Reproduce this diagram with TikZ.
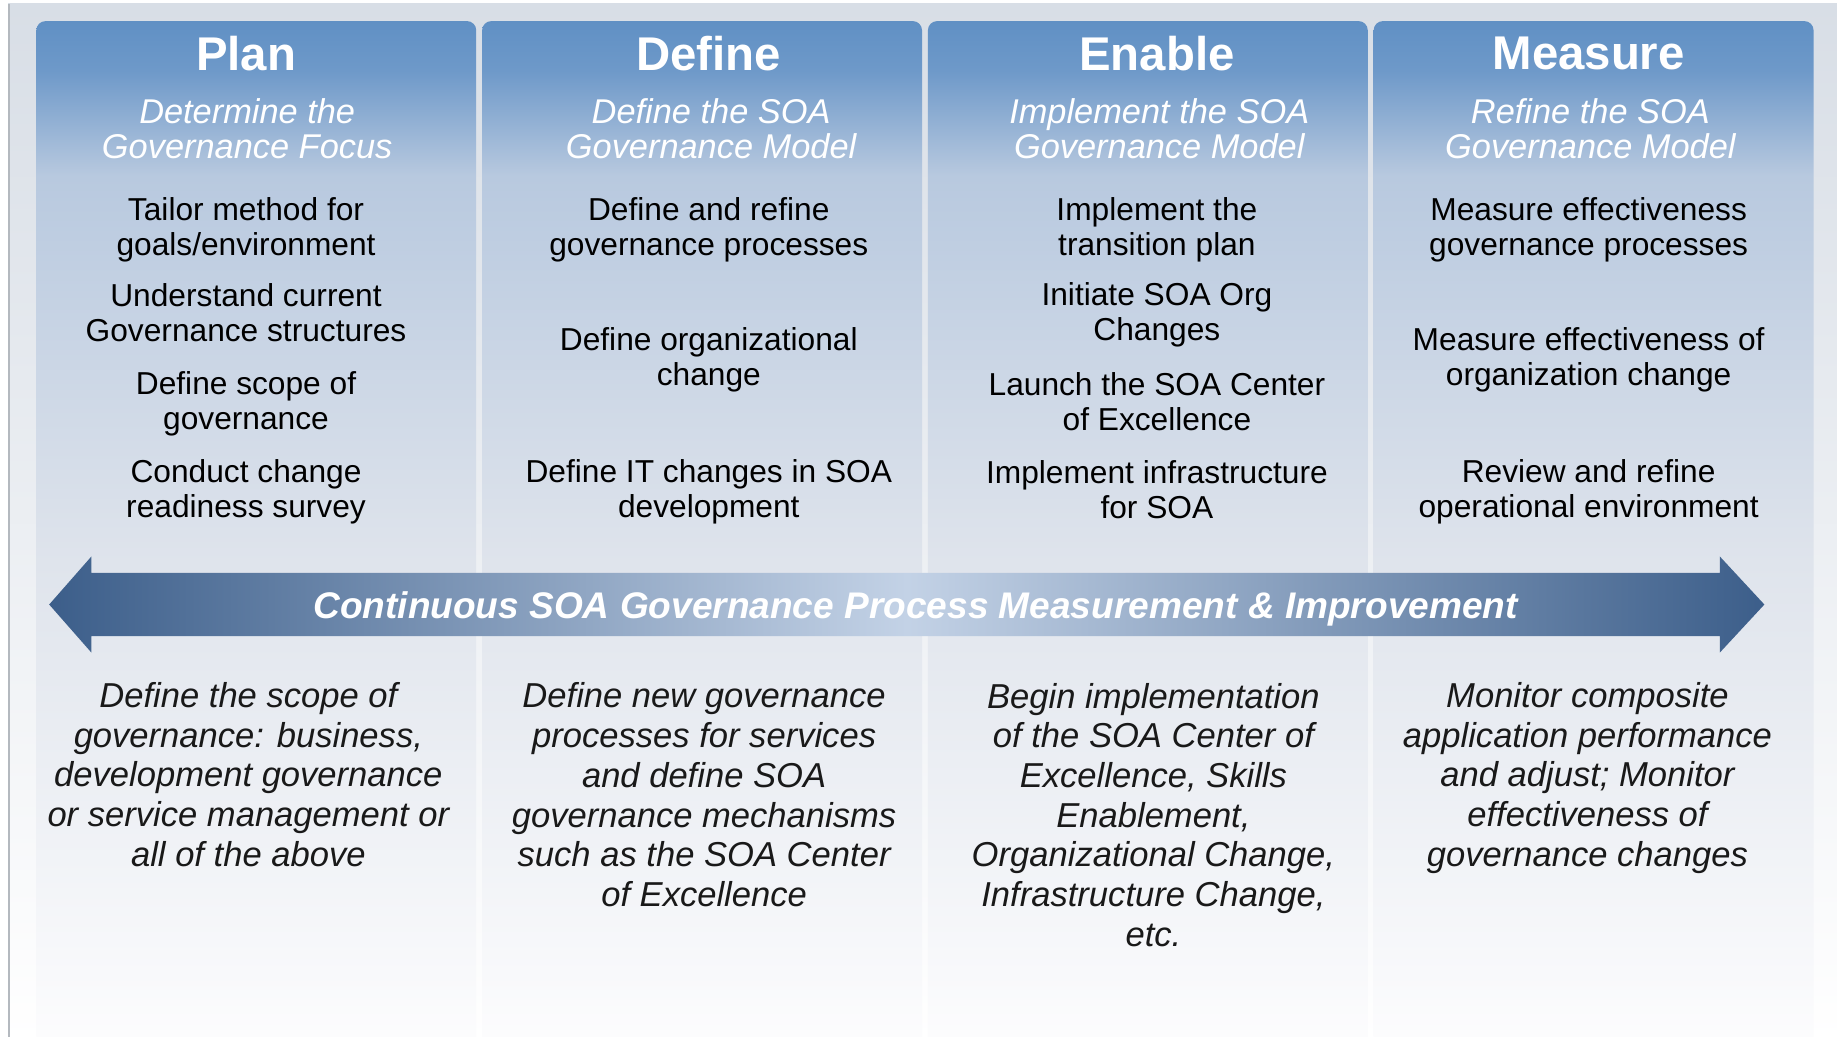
\documentclass[tikz,border=0pt]{standalone}
\usepackage{fontspec}
\setmainfont{Liberation Sans}
\usepackage{xcolor}
\usepackage{tikz}
\usetikzlibrary{calc}
\definecolor{bgtop}{HTML}{D8DEE6}
\definecolor{bgbot}{HTML}{FFFFFF}
\definecolor{edgegray}{HTML}{B4B9BF}
\definecolor{coltop}{HTML}{6090C4}
\definecolor{colhi}{HTML}{6E99C9}
\definecolor{colmid}{HTML}{B8C9DF}
\definecolor{collow}{HTML}{DFE4EC}
\definecolor{colbot}{HTML}{FDFDFE}
\definecolor{bandend}{HTML}{3C5E8A}
\definecolor{bandmid}{HTML}{C3D2E6}
\pgfdeclareverticalshading{colfade}{100bp}{color(0bp)=(colbot); color(25bp)=(colbot); color(48.8bp)=(collow); color(67.5bp)=(colmid); color(72.6bp)=(colhi); color(75bp)=(coltop); color(100bp)=(coltop)}
\tikzset{
    panel/.style={top color=bgtop, bottom color=bgbot},
    column fill/.style={shading=colfade, rounded corners=4.5pt},
    band/.style={left color=bandend, right color=bandend, middle color=bandmid},
    phase title/.style={text=white, font=\fontsize{23}{26}\selectfont\bfseries},
    phase goal/.style={text=white, align=center, font=\fontsize{16.7}{17}\selectfont\itshape},
    phase step/.style={text=black, align=center, font=\fontsize{15.4}{17}\selectfont},
    phase note/.style={text=black!90, align=center, font=\fontsize{16.8}{19.3}\selectfont\itshape},
    band text/.style={text=white, font=\fontsize{18}{21}\selectfont\bfseries\itshape},
}

\begin{document}
\begin{tikzpicture}[x=0.02cm, y=-0.02cm]
        \useasboundingbox (0,0) rectangle (1568,885);
        \clip (0,0) rectangle (1568,885);

        \path[panel] (7,3) rectangle (1575,890);
        \draw[edgegray, line width=1.2pt] (7.5,3) -- (7.5,890);

        \foreach \xl in {31,411.5,792,1172.5}
            \path[column fill] (\xl,900) rectangle ++(375.5,-882);

        \coordinate (bandL) at (42,516);
        \coordinate (bandR) at (1506,516);
        \path[band] (bandL) -- ($(bandL)+(36,-41)$) -- ($(bandL)+(36,-27)$)
            -- ($(bandR)+(-38,-27)$) -- ($(bandR)+(-38,-41)$) -- (bandR)
            -- ($(bandR)+(-38,41)$) -- ($(bandR)+(-38,27)$)
            -- ($(bandL)+(36,27)$) -- ($(bandL)+(36,41)$) -- cycle;
        \node[band text] (band) at (781.5,520)
            {Continuous SOA Governance Process Measurement \& Improvement};

        % Plan
        \node[phase title] (plan) at (210,46) {Plan};
        \node[phase goal] (plan goal) at (211,110) {Determine the\\Governance Focus};
        \node[phase step] (plan s1) at (210,196) {Tailor method for\\goals/environment};
        \node[phase step] (plan s2) at (210,267) {Understand current\\Governance structures};
        \node[phase step] (plan s3) at (210,345) {Define scope of\\governance};
        \node[phase step] (plan s4) at (210,420) {Conduct change\\readiness survey};
        \node[phase note] (plan note) at (212,661) {Define the scope of\\governance: business,\\development governance\\or service management or\\all of the above};

        % Define
        \node[phase title] (define) at (605,46) {Define};
        \node[phase goal] (define goal) at (607,110) {Define the SOA\\Governance Model};
        \node[phase step] (define s1) at (605,196) {Define and refine\\governance processes};
        \node[phase step] (define s2) at (605,307) {Define organizational\\change};
        \node[phase step] (define s3) at (605,420) {Define IT changes in SOA\\development};
        \node[phase note] (define note) at (601,678.5) {Define new governance\\processes for services\\and define SOA\\governance mechanisms\\such as the SOA Center\\of Excellence};

        % Enable
        \node[phase title] (enable) at (987.5,46) {Enable};
        \node[phase goal] (enable goal) at (989.5,110) {Implement the SOA\\Governance Model};
        \node[phase step] (enable s1) at (987.5,196) {Implement the\\transition plan};
        \node[phase step] (enable s2) at (987.5,269) {Initiate SOA Org\\Changes};
        \node[phase step] (enable s3) at (987.5,343) {Launch the SOA Center\\of Excellence};
        \node[phase step] (enable s4) at (987.5,418) {Implement infrastructure\\for SOA};
        \node[phase note] (enable note) at (984.5,695.5) {Begin implementation\\of the SOA Center of\\Excellence, Skills\\Enablement,\\Organizational Change,\\Infrastructure Change,\\etc.};

        % Measure
        \node[phase title] (measure) at (1356,46) {Measure};
        \node[phase goal] (measure goal) at (1357.5,110) {Refine the SOA\\Governance Model};
        \node[phase step] (measure s1) at (1356,196) {Measure effectiveness\\governance processes};
        \node[phase step] (measure s2) at (1356,307) {Measure effectiveness of\\organization change};
        \node[phase step] (measure s3) at (1356,420) {Review and refine\\operational environment};
        \node[phase note] (measure note) at (1355,664) {Monitor composite\\application performance\\and adjust; Monitor\\effectiveness of\\governance changes};
    \end{tikzpicture}
\end{document}
